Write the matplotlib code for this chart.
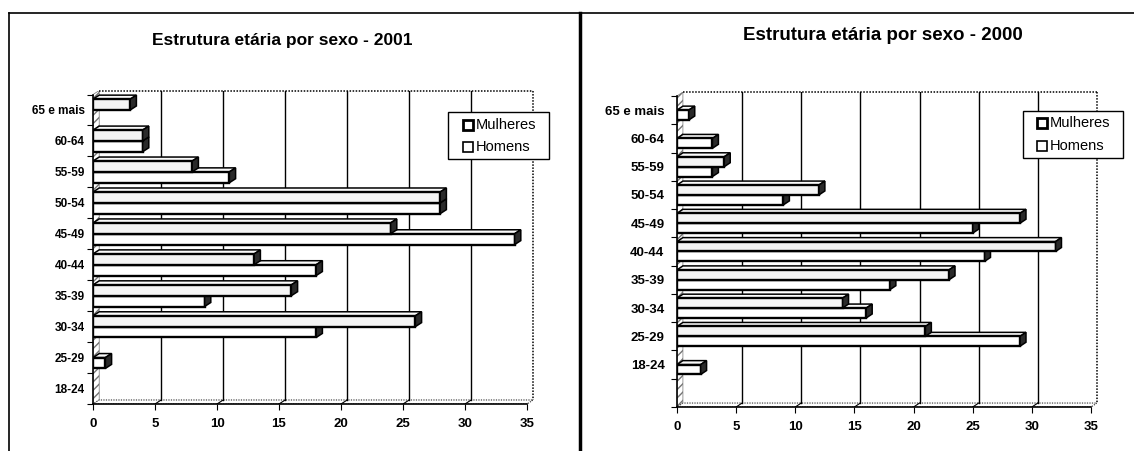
import matplotlib
matplotlib.use("Agg")
import matplotlib.pyplot as plt
from matplotlib.patches import Polygon, Rectangle
from matplotlib.lines import Line2D

plt.rcParams["font.family"] = ["Liberation Sans", "DejaVu Sans"]

# Age groups, top to bottom
age_groups = ["65 e mais", "60-64", "55-59", "50-54", "45-49",
              "40-44", "35-39", "30-34", "25-29", "18-24"]

# 2001
women_2001 = [3, 4, 8, 28, 24, 13, 16, 26, 0, 0]
men_2001 = [0, 4, 11, 28, 34, 18, 9, 18, 1, 0]

# 2000
women_2000 = [0, 0, 4, 12, 29, 32, 23, 14, 21, 0]
men_2000 = [1, 3, 3, 9, 25, 26, 18, 16, 29, 2]

x_ticks = [0, 5, 10, 15, 20, 25, 30, 35]
series_names = ["Mulheres", "Homens"]

W, H = 1134, 451
fig = plt.figure(figsize=(W / 100, H / 100), dpi=100)


def px_axes(x0, x1, y0, y1):
    """Axes from pixel box (left, right, top, bottom)."""
    return fig.add_axes([x0 / W, 1 - y1 / H, (x1 - x0) / W, (y1 - y0) / H])


def bar3d(ax, y_top, value, h, dx, dy, face):
    if value <= 0:
        return
    y_bot = y_top + h
    ax.add_patch(Polygon([(0, y_top), (value, y_top), (value + dx, y_top - dy),
                          (dx, y_top - dy)], closed=True, facecolor="#fafafa",
                         edgecolor="black", lw=1.1, zorder=4))
    ax.add_patch(Rectangle((0, y_top), value, h, facecolor=face,
                           edgecolor="black", lw=1.7, zorder=5))
    ax.add_patch(Polygon([(value, y_bot), (value, y_top), (value + dx, y_top - dy),
                          (value + dx, y_bot - dy)], closed=True,
                         facecolor="#2a2a2a", edgecolor="black", lw=1.1, zorder=5))


def draw_panel(ax, women, men, n_slots, dx, dy, ylab_size, ylab_pad, h=0.35):
    xmax = x_ticks[-1]
    bottom = n_slots - 0.5
    top = -0.5
    ax.set_xlim(0, xmax + dx)
    ax.set_ylim(bottom, top - dy)
    for s in ax.spines.values():
        s.set_visible(False)

    # side wall
    ax.add_patch(Polygon([(0, bottom), (0, top), (dx, top - dy), (dx, bottom - dy)],
                         closed=True, facecolor="white", edgecolor="0.45",
                         hatch="////", lw=0.5, zorder=1))
    # floor
    ax.add_patch(Polygon([(0, bottom), (xmax, bottom), (xmax + dx, bottom - dy),
                          (dx, bottom - dy)], closed=True, facecolor="white",
                         edgecolor="0.3", lw=0.9, ls=(0, (1, 1)), zorder=1))
    # back wall outline
    ax.plot([dx, xmax + dx], [top - dy, top - dy], color="black", lw=1.1,
            ls=(0, (1, 1)), clip_on=False, zorder=2)
    ax.plot([xmax + dx, xmax + dx], [top - dy, bottom - dy], color="black",
            lw=1.1, ls=(0, (1, 1)), clip_on=False, zorder=2)
    # gridlines on the back wall and floor
    for t in x_ticks[1:-1]:
        ax.plot([t + dx, t + dx], [bottom - dy, top - dy], color="black",
                lw=1.0, zorder=2)
        ax.plot([t, t + dx], [bottom, bottom - dy], color="black", lw=0.8, zorder=2)
    # front axes
    ax.plot([0, 0], [bottom, top], color="black", lw=1.2, clip_on=False, zorder=6)
    ax.plot([0, xmax], [bottom, bottom], color="black", lw=1.2, clip_on=False, zorder=6)

    for i in range(len(age_groups)):
        bar3d(ax, i, men[i], h, dx, dy, "white")
        bar3d(ax, i - h, women[i], h, dx, dy, "#f4f4f4")

    ax.set_xticks(x_ticks)
    ax.set_xticklabels([str(t) for t in x_ticks], fontsize=9.5, fontweight="bold")
    ax.set_yticks(range(len(age_groups)))
    ax.set_yticklabels(age_groups, fontsize=ylab_size, fontweight="bold")
    ax.set_yticks([k - 0.5 for k in range(n_slots + 1)], minor=True)
    ax.tick_params(axis="y", which="major", length=0, pad=ylab_pad)
    ax.tick_params(axis="y", which="minor", length=4, width=0.8, direction="out")
    ax.tick_params(axis="x", which="major", length=4, width=0.8, direction="out", pad=6)
    ax.patch.set_alpha(0)


def add_legend(x0, y0, x1, y1, marker_x, text_x, rows):
    """Boxed legend drawn in pixel coordinates of the figure."""
    fx = lambda v: v / W
    fy = lambda v: 1 - v / H
    fig.add_artist(Rectangle((fx(x0), fy(y1)), fx(x1) - fx(x0), fy(y0) - fy(y1),
                             transform=fig.transFigure, facecolor="white",
                             edgecolor="black", lw=1.0, zorder=10))
    for name, yc, lw in zip(series_names, rows, (2.0, 1.2)):
        s = 10
        fig.add_artist(Rectangle((fx(marker_x), fy(yc + s / 2)), s / W, s / H,
                                 transform=fig.transFigure, facecolor="white",
                                 edgecolor="black", lw=lw, zorder=11))
        fig.text(fx(text_x), fy(yc), name, ha="left", va="center",
                 fontsize=10.5, zorder=12)


# 2001 panel
ax1 = px_axes(93, 93 + 35.5 * 12.4, 90.5, 404)
draw_panel(ax1, women_2001, men_2001, n_slots=10, dx=0.5, dy=0.13,
           ylab_size=8.5, ylab_pad=6)
add_legend(448, 112, 549, 159, 463, 476, (125, 147))
fig.text(282 / W, 1 - 41 / H, "Estrutura etária por sexo - 2001",
         ha="center", va="center", fontsize=12.5, fontweight="bold")

# 2000 panel
ax2 = px_axes(677, 677 + 35.5 * 11.83, 92, 407)
draw_panel(ax2, women_2000, men_2000, n_slots=11, dx=0.5, dy=0.14,
           ylab_size=9.5, ylab_pad=9)
add_legend(1023, 111, 1123, 158, 1037, 1050, (123, 146))
fig.text(883 / W, 1 - 36 / H, "Estrutura etária por sexo - 2000",
         ha="center", va="center", fontsize=13.5, fontweight="bold")

# page frame
fig.add_artist(Line2D([9 / W, 1], [1 - 13 / H, 1 - 13 / H], color="black", lw=1.2))
fig.add_artist(Line2D([9 / W, 9 / W], [0, 1 - 13 / H], color="black", lw=1.2))
fig.add_artist(Line2D([580 / W, 580 / W], [0, 1 - 13 / H], color="black", lw=2.5))

fig.savefig("out.png", dpi=100, facecolor="white")
